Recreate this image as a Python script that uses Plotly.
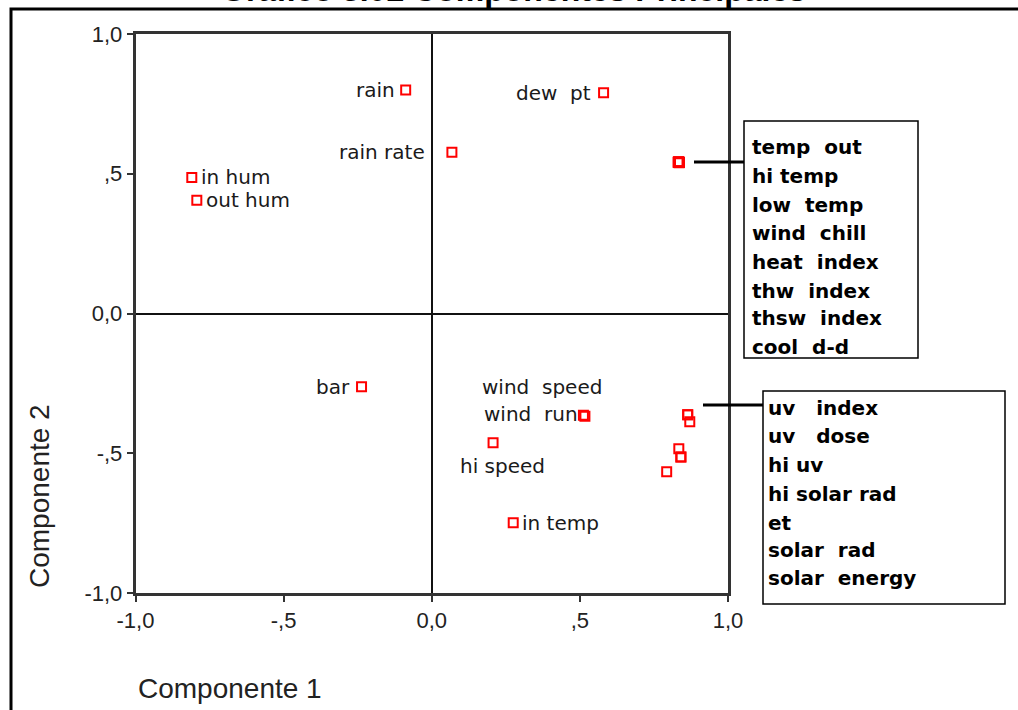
import plotly.graph_objects as go

W, H = 1018, 710

# ---------------- data ----------------
single_names = ["rain", "dew\u00a0 pt", "rain rate", "in hum", "out hum", "bar",
                "wind\u00a0 speed", "wind\u00a0 run", "hi speed", "in temp"]
single_c1 = [-0.088, 0.580, 0.068, -0.810, -0.793, -0.237, 0.512, 0.517, 0.207, 0.275]
single_c2 = [0.800, 0.790, 0.577, 0.487, 0.405, -0.262, -0.364, -0.368, -0.462, -0.749]

temp_names = ["temp\u00a0 out", "hi temp", "low\u00a0 temp", "wind\u00a0 chill",
              "heat\u00a0 index", "thw\u00a0 index", "thsw\u00a0 index", "cool\u00a0 d-d"]
temp_c1 = [0.832, 0.834, 0.836, 0.833, 0.835, 0.834, 0.836, 0.832]
temp_c2 = [0.540, 0.542, 0.541, 0.543, 0.539, 0.541, 0.540, 0.542]

uv_names = ["uv\u00a0\u00a0 index", "uv\u00a0\u00a0 dose", "hi uv", "hi solar rad", "et",
            "solar\u00a0 rad", "solar\u00a0 energy"]
uv_c1 = [0.864, 0.864, 0.871, 0.834, 0.793, 0.841, 0.841]
uv_c2 = [-0.362, -0.362, -0.387, -0.484, -0.566, -0.513, -0.513]

tick_vals = [-1.0, -0.5, 0.0, 0.5, 1.0]
tick_text = ["-1,0", "-,5", "0,0", ",5", "1,0"]

title_text = "Gráfico 3.02 Componentes Principales"
x_title = "Componente 1"
y_title = "Componente 2"

# label placement for single points: (xanchor, xshift, yshift)
label_pos = {
    "rain": ("right", -9, 0),
    "dew\u00a0 pt": ("right", -11, 0),
    "rain rate": ("right", -25, 0),
    "in hum": ("left", 7, 0),
    "out hum": ("left", 7, 0),
    "bar": ("right", -10, 0),
    "wind\u00a0 speed": ("left", -103, 28),
    "wind\u00a0 run": ("left", -103, 2),
    "hi speed": ("center", 9, -23),
    "in temp": ("left", 7, 0),
}

def px(x):
    return x / W

def py(y):
    return 1 - y / H

narrow = "Liberation Sans Narrow, Arial Narrow, Liberation Sans, Arial, sans-serif"
label_font = dict(family="DejaVu Sans, sans-serif", size=20, color="#1a1a1a")
bold_font = dict(family="DejaVu Sans, sans-serif", size=20, color="#000000", weight="bold")

fig = go.Figure()

marker = dict(symbol="square-open", size=9, color="#ff0000", line=dict(width=2, color="#ff0000"))
fig.add_trace(go.Scatter(x=single_c1, y=single_c2, mode="markers", marker=marker,
                         text=single_names, hoverinfo="text", showlegend=False))
fig.add_trace(go.Scatter(x=temp_c1, y=temp_c2, mode="markers", marker=marker,
                         text=temp_names, hoverinfo="text", showlegend=False))
fig.add_trace(go.Scatter(x=uv_c1, y=uv_c2, mode="markers", marker=marker,
                         text=uv_names, hoverinfo="text", showlegend=False))

annotations = []
for n, a, b in zip(single_names, single_c1, single_c2):
    xa, xs, ys = label_pos[n]
    annotations.append(dict(x=a, y=b, xref="x", yref="y", text=n, showarrow=False,
                            xanchor=xa, yanchor="middle", xshift=xs, yshift=ys,
                            font=label_font))

# grouped labels boxes
box1_lines_y = [147, 176, 205, 233, 262, 291, 318, 347]
for n, yy in zip(temp_names, box1_lines_y):
    annotations.append(dict(x=px(750), y=py(yy), xref="paper", yref="paper", text=n,
                            showarrow=False, xanchor="left", yanchor="middle", font=bold_font))
box2_lines_y = [408, 436, 465, 494, 523, 550, 578]
for n, yy in zip(uv_names, box2_lines_y):
    annotations.append(dict(x=px(766), y=py(yy), xref="paper", yref="paper", text=n,
                            showarrow=False, xanchor="left", yanchor="middle", font=bold_font))

# title (partly cut at top, as in the reference) and axis titles
annotations.append(dict(x=px(513), y=py(9), xref="paper", yref="paper", text=title_text,
                        showarrow=False, xanchor="center", yanchor="bottom", borderpad=0,
                        font=dict(family="Liberation Sans, Arial, sans-serif", size=32,
                                  color="#000", weight="bold")))
annotations.append(dict(x=px(136), y=py(688), xref="paper", yref="paper", text=x_title,
                        showarrow=False, xanchor="left", yanchor="middle",
                        font=dict(family=narrow, size=28, color="#222")))
annotations.append(dict(x=px(40), y=py(496), xref="paper", yref="paper", text=y_title,
                        showarrow=False, xanchor="center", yanchor="middle", textangle=-90,
                        font=dict(family=narrow, size=28, color="#222")))

shapes = [
    # outer frame
    dict(type="rect", xref="paper", yref="paper", x0=px(11), x1=1.05, y0=-0.05, y1=py(9),
         line=dict(color="#000", width=3), fillcolor="rgba(0,0,0,0)"),
    # box 1
    dict(type="rect", xref="paper", yref="paper", x0=px(744), x1=px(918), y0=py(358), y1=py(121),
         line=dict(color="#000", width=1.5), fillcolor="white"),
    dict(type="line", xref="paper", yref="paper", x0=px(694), x1=px(744), y0=py(162), y1=py(162),
         line=dict(color="#000", width=3)),
    # box 2
    dict(type="rect", xref="paper", yref="paper", x0=px(763), x1=px(1005), y0=py(604), y1=py(391),
         line=dict(color="#000", width=1.5), fillcolor="white"),
    dict(type="line", xref="paper", yref="paper", x0=px(703), x1=px(763), y0=py(405), y1=py(405),
         line=dict(color="#000", width=3)),
]

axis_common = dict(range=[-1, 1], tickvals=tick_vals, ticktext=tick_text, showgrid=False,
                   zeroline=True, zerolinecolor="#111", zerolinewidth=1.5,
                   showline=True, linecolor="#333", linewidth=2.5, mirror=True,
                   ticks="outside", ticklen=6, tickwidth=1.5, tickcolor="#333",
                   tickfont=dict(family=narrow, size=22, color="#222"),
                   automargin=False, fixedrange=True)

fig.update_layout(
    width=W, height=H, autosize=False,
    margin=dict(l=0, r=0, t=0, b=0, pad=0),
    paper_bgcolor="white", plot_bgcolor="white",
    xaxis=dict(domain=[px(135.5), px(728)], **axis_common),
    yaxis=dict(domain=[py(593), py(34)], **axis_common),
    annotations=annotations, shapes=shapes, showlegend=False,
)

fig.write_html("out.html", config={"displayModeBar": False},
               post_script="document.body.style.margin='0';")
